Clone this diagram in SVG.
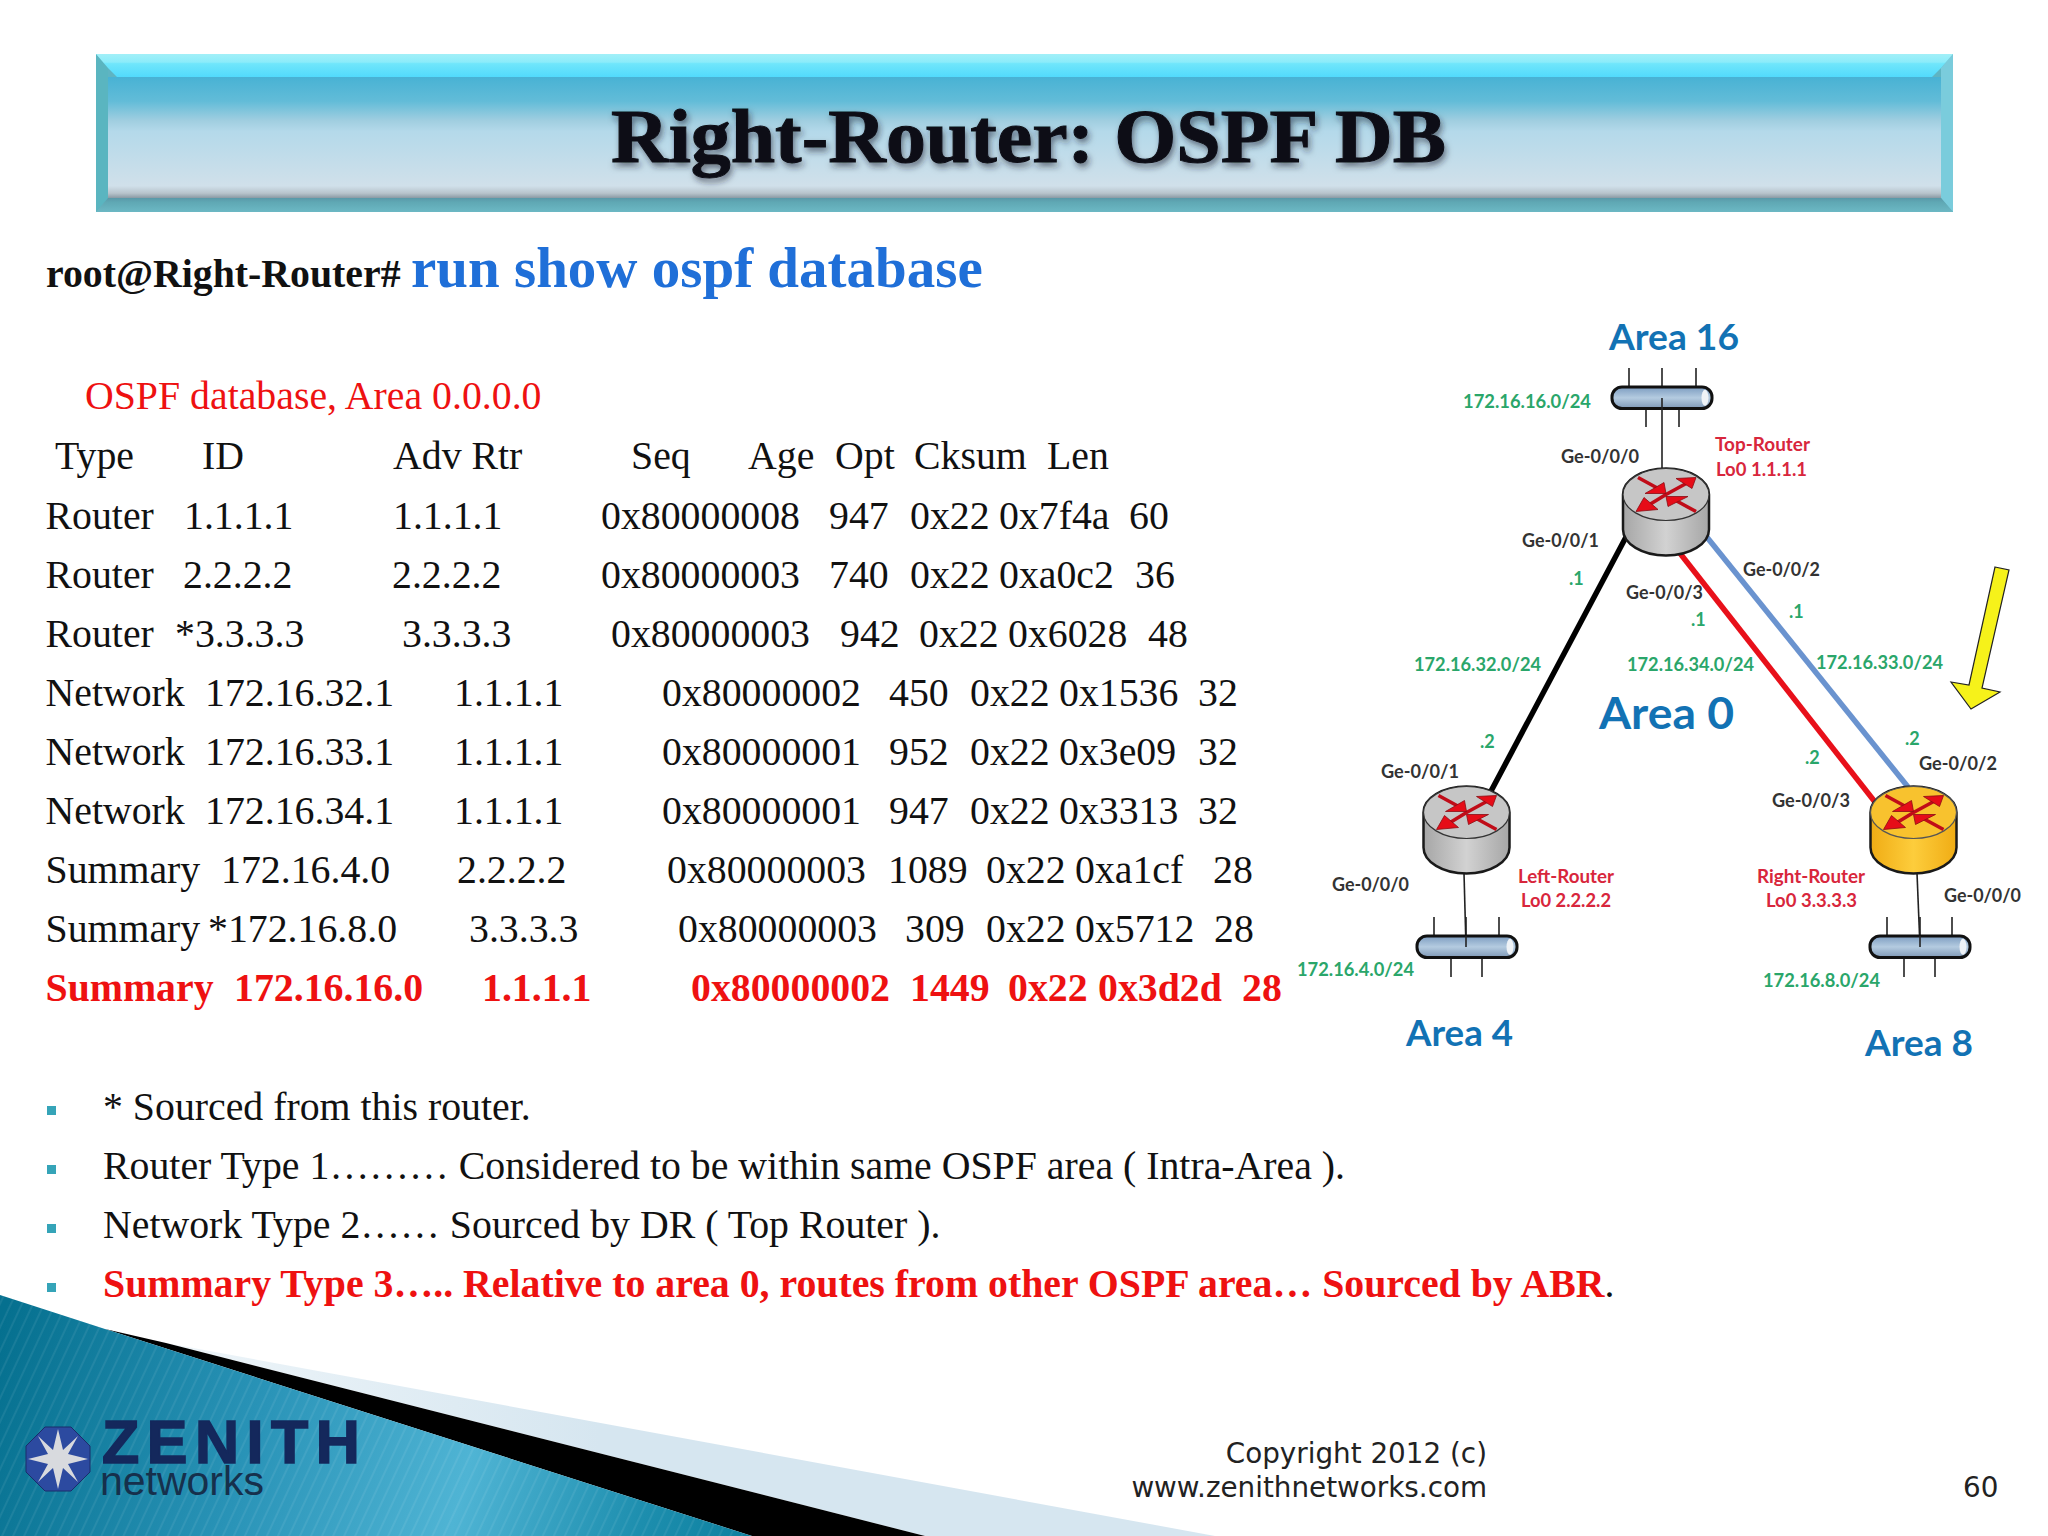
<svg xmlns="http://www.w3.org/2000/svg" width="2048" height="1536" viewBox="0 0 2048 1536">
<style>
.t{font-family:"Liberation Serif","Times New Roman",serif;font-size:39.8px;fill:#111}
.b{font-weight:700}
.r{fill:#ee1111}
.d{font-family:Lato,"Open Sans",sans-serif;font-weight:700}
.g{font-size:18px;fill:#2aa66a}
.k{font-size:18px;fill:#333}
.m{font-size:18px;fill:#d8263c}
.a{font-size:36px;fill:#1272b4}
.f{font-family:"DejaVu Sans",sans-serif;font-size:27.8px;fill:#222}
.tick{stroke:#222;stroke-width:1.6;fill:none}
.bullet{fill:#35a4b8}
</style>
<defs>
<linearGradient id="hb" x1="0" y1="0" x2="0" y2="1"><stop offset="0" stop-color="#48b2d4"/><stop offset=".2" stop-color="#62bcd8"/><stop offset=".36" stop-color="#a0cee0"/><stop offset=".45" stop-color="#b4d9ea"/><stop offset=".9" stop-color="#d0e0ea"/><stop offset=".96" stop-color="#b8c4cc"/><stop offset="1" stop-color="#8a9aa4"/></linearGradient>
<linearGradient id="ht" x1="0" y1="0" x2="0" y2="1"><stop offset="0" stop-color="#a2f0f8"/><stop offset=".35" stop-color="#8cecfa"/><stop offset=".42" stop-color="#70e6fb"/><stop offset="1" stop-color="#52dafc"/></linearGradient>
<linearGradient id="hbot" x1="0" y1="0" x2="0" y2="1"><stop offset="0" stop-color="#5a98a8"/><stop offset=".3" stop-color="#5fa8b4"/><stop offset="1" stop-color="#6cb8c4"/></linearGradient>
<linearGradient id="teal" gradientUnits="userSpaceOnUse" x1="0" y1="1330" x2="760" y2="1536"><stop offset="0" stop-color="#05708f"/><stop offset=".35" stop-color="#2a94b8"/><stop offset=".62" stop-color="#4fb4d4"/><stop offset=".85" stop-color="#1d8eae"/><stop offset="1" stop-color="#0b7f9e"/></linearGradient>
<linearGradient id="band" gradientUnits="userSpaceOnUse" x1="166" y1="0" x2="600" y2="0"><stop offset="0" stop-color="#eef5f9"/><stop offset="1" stop-color="#d6e6f0"/></linearGradient>
<linearGradient id="grey" x1="0" y1="0" x2="1" y2="0"><stop offset="0" stop-color="#a6a6a6"/><stop offset=".5" stop-color="#d2d2d2"/><stop offset="1" stop-color="#a6a6a6"/></linearGradient>
<linearGradient id="gold" x1="0" y1="0" x2="1" y2="0"><stop offset="0" stop-color="#f0ac14"/><stop offset=".5" stop-color="#fdcd3c"/><stop offset="1" stop-color="#f0ac14"/></linearGradient>
<linearGradient id="pipe" x1="0" y1="0" x2="0" y2="1"><stop offset="0" stop-color="#7c9cc0"/><stop offset=".5" stop-color="#b4cbe0"/><stop offset="1" stop-color="#7e98b6"/></linearGradient>
<pattern id="stripes" width="10" height="10" patternUnits="userSpaceOnUse" patternTransform="rotate(25)"><rect width="2" height="10" fill="#fff" opacity=".07"/></pattern>
<filter id="sh" x="-5%" y="-20%" width="110%" height="150%"><feDropShadow dx="2" dy="4" stdDeviation="3" flood-color="#223" flood-opacity=".55"/></filter>
<g id="arrows">
<path d="M-28,-17 L-6,-5M0,0 L22,-12M0,0 L-18,11M30,17 L8,5" stroke="#c00c18" stroke-width="3.6" fill="none"/>
<path d="M0,-1 L-21,-1 L-2,-12Z M30,-17 L10,-16 L26,-6Z M-30,17 L-22,3 L-8,15Z M0,2 L22,2 L2,12Z" fill="#e60c18" stroke="#8a0c14" stroke-width=".8"/>
</g>
<path id="cyl" d="M-43,0 V35 A43,26 0 0 0 43,35 V0 A43,26 0 0 0 -43,0Z" stroke="#1a1a1a" stroke-width="2.5"/>
<g id="hub"><rect x="0" y="0" width="100" height="21.6" rx="10" fill="url(#pipe)" stroke="#111" stroke-width="3"/><ellipse cx="93" cy="10.8" rx="3.5" ry="8" fill="#eef2f6"/></g>
</defs>
<rect width="2048" height="1536" fill="#fff"/>

<g id="title-bar">
<rect x="96" y="54" width="1857" height="158" fill="#5fb4c2"/>
<polygon points="96,54 108,68 108,198 96,212" fill="#5ab5c0"/>
<polygon points="1953,54 1953,212 1941,198 1941,68" fill="#7accdc"/>
<rect x="108" y="77" width="1833" height="121" fill="url(#hb)"/>
<polygon points="96,54 1953,54 1941,68 1932,77 117,77 108,68" fill="url(#ht)"/>
<polygon points="96,212 1953,212 1941,198 108,198" fill="url(#hbot)"/>
<text x="611" y="162" class="t b" style="font-size:76px;fill:#0b0f14;stroke:#0b0f14;stroke-width:1" textLength="835" lengthAdjust="spacingAndGlyphs" filter="url(#sh)">Right-Router: OSPF DB</text>
</g>

<g id="footer-swoosh">
<polygon points="166,1343 1215,1536 925,1536" fill="url(#band)"/>
<polygon points="105,1329 166,1343 925,1536 752,1536" fill="#000"/>
<polygon points="0,1295 105,1329 752,1536 0,1536" fill="url(#teal)"/>
<polygon points="0,1295 105,1329 752,1536 0,1536" fill="url(#stripes)"/>
</g>

<g id="logo">
<polygon points="45,1427 71,1427 90,1446 90,1472 71,1491 45,1491 26,1472 26,1446" fill="#2c4aa0" stroke="#1a2c6a" stroke-width="1"/>
<polygon points="58,1429 63,1450 78,1436 68,1454 88,1459 68,1464 78,1482 63,1468 58,1489 53,1468 38,1482 48,1464 28,1459 48,1454 38,1436 53,1450" fill="#d8dade"/>
<text x="102" y="1463" style="font-family:'Liberation Sans',sans-serif;font-weight:700;font-size:61px;letter-spacing:7.5px;fill:#14285c;stroke:#14285c;stroke-width:1.6">ZENITH</text>
<text x="100" y="1495" style="font-family:'Liberation Sans',sans-serif;font-size:41px;fill:#16304c" textLength="164" lengthAdjust="spacingAndGlyphs">networks</text>
</g>

<g id="command">
<text x="46" y="287" class="t b">root@Right-Router#</text>
<text x="411" y="287" class="t b" style="font-size:57px;fill:#1f6fd8">run show ospf database</text>
</g>

<g id="database-table">
<text class="t r" x="85" y="409">OSPF database, Area 0.0.0.0</text>
<text class="t" y="469"><tspan x="55">Type</tspan><tspan x="202">ID</tspan><tspan x="393">Adv Rtr</tspan><tspan x="631">Seq</tspan><tspan x="748">Age</tspan><tspan x="835">Opt</tspan><tspan x="914">Cksum</tspan><tspan x="1047">Len</tspan></text>
<text class="t" y="529"><tspan x="45.5">Router</tspan><tspan x="184">1.1.1.1</tspan><tspan x="393">1.1.1.1</tspan><tspan x="601">0x80000008</tspan><tspan x="829">947</tspan><tspan x="910">0x22</tspan><tspan x="999">0x7f4a</tspan><tspan x="1129">60</tspan></text>
<text class="t" y="588"><tspan x="45.5">Router</tspan><tspan x="183">2.2.2.2</tspan><tspan x="392">2.2.2.2</tspan><tspan x="601">0x80000003</tspan><tspan x="829">740</tspan><tspan x="910">0x22</tspan><tspan x="999">0xa0c2</tspan><tspan x="1135">36</tspan></text>
<text class="t" y="647"><tspan x="45.5">Router</tspan><tspan x="175">*3.3.3.3</tspan><tspan x="402">3.3.3.3</tspan><tspan x="611">0x80000003</tspan><tspan x="840">942</tspan><tspan x="919">0x22</tspan><tspan x="1008">0x6028</tspan><tspan x="1148">48</tspan></text>
<text class="t" y="706"><tspan x="45.5">Network</tspan><tspan x="205">172.16.32.1</tspan><tspan x="454">1.1.1.1</tspan><tspan x="662">0x80000002</tspan><tspan x="889">450</tspan><tspan x="970">0x22</tspan><tspan x="1059">0x1536</tspan><tspan x="1198">32</tspan></text>
<text class="t" y="765"><tspan x="45.5">Network</tspan><tspan x="205">172.16.33.1</tspan><tspan x="454">1.1.1.1</tspan><tspan x="662">0x80000001</tspan><tspan x="889">952</tspan><tspan x="970">0x22</tspan><tspan x="1059">0x3e09</tspan><tspan x="1198">32</tspan></text>
<text class="t" y="824"><tspan x="45.5">Network</tspan><tspan x="205">172.16.34.1</tspan><tspan x="454">1.1.1.1</tspan><tspan x="662">0x80000001</tspan><tspan x="889">947</tspan><tspan x="970">0x22</tspan><tspan x="1059">0x3313</tspan><tspan x="1198">32</tspan></text>
<text class="t" y="883"><tspan x="45.5">Summary</tspan><tspan x="221">172.16.4.0</tspan><tspan x="457">2.2.2.2</tspan><tspan x="667">0x80000003</tspan><tspan x="888">1089</tspan><tspan x="986">0x22</tspan><tspan x="1075">0xa1cf</tspan><tspan x="1213">28</tspan></text>
<text class="t" y="942"><tspan x="45.5">Summary</tspan><tspan x="208">*172.16.8.0</tspan><tspan x="469">3.3.3.3</tspan><tspan x="678">0x80000003</tspan><tspan x="905">309</tspan><tspan x="986">0x22</tspan><tspan x="1075">0x5712</tspan><tspan x="1214">28</tspan></text>
<text class="t b r" y="1001"><tspan x="45.5">Summary</tspan><tspan x="234">172.16.16.0</tspan><tspan x="482">1.1.1.1</tspan><tspan x="691">0x80000002</tspan><tspan x="910">1449</tspan><tspan x="1008">0x22</tspan><tspan x="1098">0x3d2d</tspan><tspan x="1242">28</tspan></text>
</g>

<g id="notes">
<rect class="bullet" x="47" y="1106" width="9" height="9"/>
<rect class="bullet" x="47" y="1165" width="9" height="9"/>
<rect class="bullet" x="47" y="1224" width="9" height="9"/>
<rect class="bullet" x="47" y="1283" width="9" height="9"/>
<text class="t" x="103" y="1120">* Sourced from this router.</text>
<text class="t" x="103" y="1179">Router Type 1……… Considered to be within same OSPF area ( Intra-Area ).</text>
<text class="t" x="103" y="1238">Network Type 2…… Sourced by DR ( Top Router ).</text>
<text class="t" x="103" y="1297"><tspan class="b r">Summary Type 3….. Relative to area 0, routes from other OSPF area… Sourced by ABR</tspan>.</text>
</g>

<g id="footer-text">
<text class="f" x="1487" y="1463" text-anchor="end">Copyright 2012 (c)</text>
<text class="f" x="1487" y="1497" text-anchor="end">www.zenithnetworks.com</text>
<text class="f" x="1963" y="1497">60</text>
</g>

<g id="connectors" fill="none">
<line x1="1626" y1="537" x2="1490" y2="793" stroke="#000" stroke-width="5.5"/>
<line x1="1679" y1="552" x2="1875" y2="802" stroke="#e8101a" stroke-width="5.5"/>
<line x1="1706" y1="536" x2="1908" y2="787" stroke="#6a93cf" stroke-width="5.5"/>
<line class="tick" x1="1662" y1="398" x2="1662" y2="468"/>
<line class="tick" x1="1464" y1="873" x2="1466" y2="947"/>
<line class="tick" x1="1917" y1="873" x2="1920" y2="947"/>
</g>

<g id="hub-area16">
<path class="tick" d="M1629,368V387M1662,368V387M1696,368V387M1646,408V427M1679,408V427"/>
<use href="#hub" x="1612" y="387"/>
<line class="tick" x1="1662" y1="398" x2="1662" y2="410"/>
</g>
<g id="hub-area4">
<path class="tick" d="M1434,917V936M1466,917V936M1499,917V936M1451,957V977M1482,957V977"/>
<use href="#hub" x="1417" y="936"/>
<line class="tick" x1="1466" y1="936" x2="1466" y2="947"/>
</g>
<g id="hub-area8">
<path class="tick" d="M1887,917V936M1920,917V936M1952,917V936M1904,957V977M1935,957V977"/>
<use href="#hub" x="1870" y="936"/>
<line class="tick" x1="1920" y1="936" x2="1920" y2="947"/>
</g>

<g id="top-router" transform="translate(1666 494.5)">
<use href="#cyl" fill="url(#grey)"/>
<ellipse rx="43" ry="26" fill="#c6c6c6" stroke="#333" stroke-width="1.2"/>
<use href="#arrows"/>
</g>
<g id="left-router" transform="translate(1466.5 812.5)">
<use href="#cyl" fill="url(#grey)"/>
<ellipse rx="43" ry="26" fill="#c6c6c6" stroke="#333" stroke-width="1.2"/>
<use href="#arrows"/>
</g>
<g id="right-router" transform="translate(1913.5 812.5)">
<use href="#cyl" fill="url(#gold)"/>
<ellipse rx="43" ry="26" fill="#f8c22e" stroke="#555" stroke-width="1.2"/>
<use href="#arrows"/>
</g>

<polygon id="yellow-arrow" points="1995,567 2009,570 1982,688 2000,692 1971,709 1951,682 1969,685" fill="#f6f21a" stroke="#222" stroke-width="1.2"/>

<g id="labels" class="d">
<text class="d a" x="1609" y="349.5" textLength="130" lengthAdjust="spacingAndGlyphs">Area 16</text>
<text class="d a" style="font-size:44px" x="1599" y="729" textLength="135" lengthAdjust="spacingAndGlyphs">Area 0</text>
<text class="d a" x="1406" y="1046" textLength="107" lengthAdjust="spacingAndGlyphs">Area 4</text>
<text class="d a" x="1865" y="1056" textLength="108" lengthAdjust="spacingAndGlyphs">Area 8</text>
<text class="d g" x="1463" y="407.5" textLength="128" lengthAdjust="spacingAndGlyphs">172.16.16.0/24</text>
<text class="d g" x="1414" y="671" textLength="127" lengthAdjust="spacingAndGlyphs">172.16.32.0/24</text>
<text class="d g" x="1627" y="671" textLength="127" lengthAdjust="spacingAndGlyphs">172.16.34.0/24</text>
<text class="d g" x="1816" y="669" textLength="127" lengthAdjust="spacingAndGlyphs">172.16.33.0/24</text>
<text class="d g" x="1297" y="976" textLength="117" lengthAdjust="spacingAndGlyphs">172.16.4.0/24</text>
<text class="d g" x="1763" y="987" textLength="117" lengthAdjust="spacingAndGlyphs">172.16.8.0/24</text>
<text class="d g" x="1569" y="585">.1</text>
<text class="d g" x="1691" y="626">.1</text>
<text class="d g" x="1789" y="618">.1</text>
<text class="d g" x="1480" y="748">.2</text>
<text class="d g" x="1805" y="764">.2</text>
<text class="d g" x="1905" y="745">.2</text>
<text class="d k" x="1561" y="463" textLength="78" lengthAdjust="spacingAndGlyphs">Ge-0/0/0</text>
<text class="d k" x="1522" y="547" textLength="77" lengthAdjust="spacingAndGlyphs">Ge-0/0/1</text>
<text class="d k" x="1743" y="576" textLength="77" lengthAdjust="spacingAndGlyphs">Ge-0/0/2</text>
<text class="d k" x="1626" y="599" textLength="77" lengthAdjust="spacingAndGlyphs">Ge-0/0/3</text>
<text class="d k" x="1381" y="778" textLength="78" lengthAdjust="spacingAndGlyphs">Ge-0/0/1</text>
<text class="d k" x="1919" y="770" textLength="78" lengthAdjust="spacingAndGlyphs">Ge-0/0/2</text>
<text class="d k" x="1772" y="807" textLength="78" lengthAdjust="spacingAndGlyphs">Ge-0/0/3</text>
<text class="d k" x="1332" y="891" textLength="77" lengthAdjust="spacingAndGlyphs">Ge-0/0/0</text>
<text class="d k" x="1944" y="902" textLength="77" lengthAdjust="spacingAndGlyphs">Ge-0/0/0</text>
<text class="d m" x="1715" y="450.5" textLength="95" lengthAdjust="spacingAndGlyphs">Top-Router</text>
<text class="d m" x="1716" y="475.5" textLength="91" lengthAdjust="spacingAndGlyphs">Lo0 1.1.1.1</text>
<text class="d m" x="1518" y="883" textLength="96" lengthAdjust="spacingAndGlyphs">Left-Router</text>
<text class="d m" x="1521" y="907" textLength="90" lengthAdjust="spacingAndGlyphs">Lo0 2.2.2.2</text>
<text class="d m" x="1757" y="883" textLength="108" lengthAdjust="spacingAndGlyphs">Right-Router</text>
<text class="d m" x="1766" y="907" textLength="91" lengthAdjust="spacingAndGlyphs">Lo0 3.3.3.3</text>
</g>
</svg>
